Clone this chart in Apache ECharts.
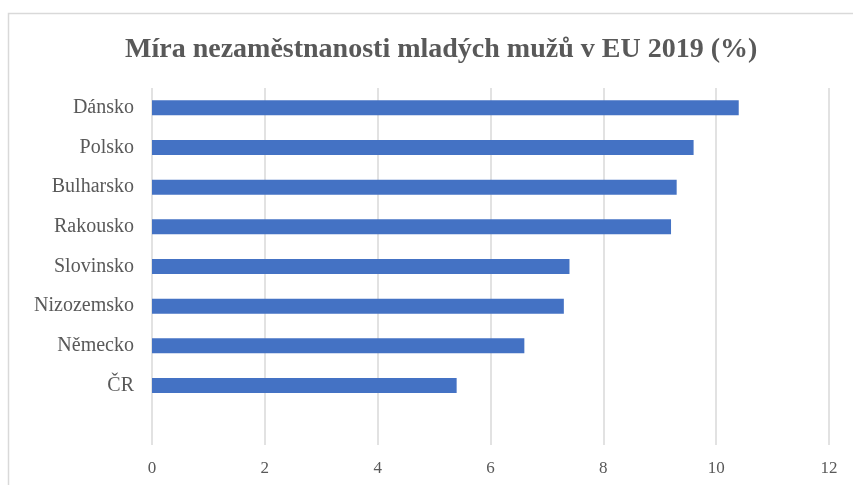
<!DOCTYPE html>
<html>
<head>
<meta charset="utf-8">
<script src="https://cdn.jsdelivr.net/npm/echarts@6/dist/echarts.min.js"></script>
<style>
  html, body { margin: 0; padding: 0; background: #fff; }
  #chart { width: 853px; height: 485px; }
</style>
</head>
<body>
<div id="chart"></div>
<script>
// Míra nezaměstnanosti mladých mužů v EU 2019 (%)
var countries = ['Dánsko', 'Polsko', 'Bulharsko', 'Rakousko', 'Slovinsko', 'Nizozemsko', 'Německo', 'ČR', ''];
var rates = [10.4, 9.6, 9.3, 9.2, 7.4, 7.3, 6.6, 5.4, null];
var xTicks = [0, 2, 4, 6, 8, 10, 12];

var myChart = echarts.init(document.getElementById('chart'));
var option = {
  backgroundColor: '#fff',
  animation: false,
  graphic: [{
    type: 'rect',
    shape: { x: 8.5, y: 13.5, width: 900, height: 520 },
    style: { fill: 'none', stroke: '#d9d9d9', lineWidth: 1.5 },
    z: -1
  }],
  title: {
    text: 'Míra nezaměstnanosti mladých mužů v EU 2019 (%)',
    left: 120,
    top: 31,
    textStyle: {
      fontFamily: 'Liberation Serif',
      fontWeight: 'bold',
      fontSize: 28,
      color: '#595959'
    }
  },
  grid: { left: 152, right: 24, top: 88, bottom: 40, containLabel: false },
  xAxis: {
    type: 'value',
    min: xTicks[0],
    max: xTicks[xTicks.length - 1],
    interval: 2,
    axisLine: { show: false },
    axisTick: { show: false },
    axisLabel: { color: '#595959', fontFamily: 'Liberation Serif', fontSize: 17, margin: 15 },
    splitLine: { lineStyle: { color: '#d9d9d9', width: 1.5 } }
  },
  yAxis: {
    type: 'category',
    inverse: true,
    data: countries,
    axisLine: { show: false },
    axisTick: { show: false },
    axisLabel: { color: '#595959', fontFamily: 'Liberation Serif', fontSize: 20, margin: 18 }
  },
  series: [{
    type: 'bar',
    data: rates,
    barWidth: 15,
    itemStyle: { color: '#4472C4' }
  }]
};
myChart.setOption(option);
</script>
</body>
</html>
